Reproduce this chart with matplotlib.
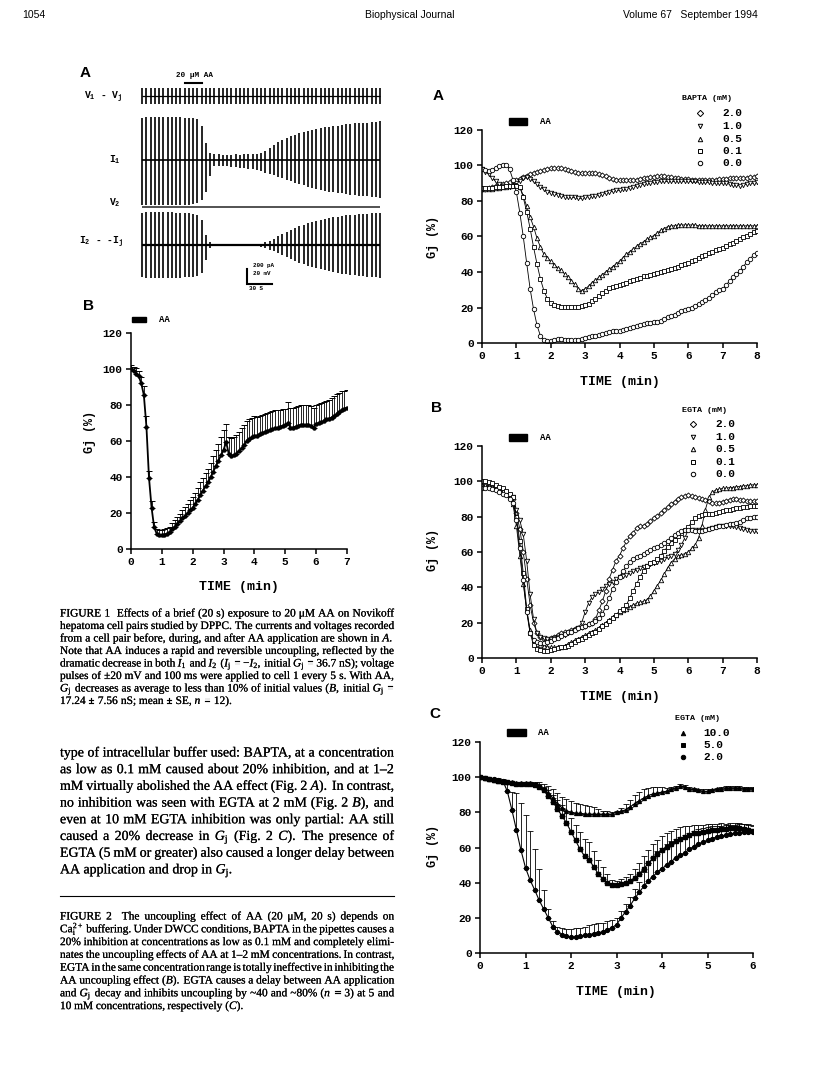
import numpy as np
import matplotlib
matplotlib.use("Agg")
import matplotlib.pyplot as plt
import matplotlib.patheffects as pe
from matplotlib.lines import Line2D
from matplotlib.patches import Rectangle

plt.rcParams['mathtext.fontset'] = 'custom'
plt.rcParams['mathtext.rm'] = 'Liberation Serif'
plt.rcParams['mathtext.it'] = 'Liberation Serif:italic'
plt.rcParams['mathtext.bf'] = 'Liberation Mono:bold'

MONO = 'Liberation Mono'
SERIF = 'Liberation Serif'
SANS = 'Liberation Sans'

# ---------------- data ----------------
# Fig 1A: current pulse envelopes (fraction of initial amplitude), one pulse every 5 s
PULSE_EVERY_S = 5
AA_TRACE_S = [50, 70]
I1_UP = [0.97, 0.99, 1.0, 1.0, 1.0, 1.0, 0.99, 0.99, 1.0, 0.99, 0.98, 0.98, 0.97,
         0.95, 0.78, 0.40, 0.17, 0.13, 0.13, 0.12, 0.12, 0.12, 0.13, 0.12, 0.13, 0.13,
         0.14, 0.15, 0.17, 0.22, 0.28, 0.34, 0.42, 0.47, 0.51, 0.55, 0.59, 0.62, 0.65,
         0.68, 0.70, 0.72, 0.74, 0.76, 0.77, 0.79, 0.80, 0.82, 0.83, 0.84, 0.85, 0.85,
         0.86, 0.87, 0.88, 0.89, 0.90]
I1_DOWN = [0.99, 1.0, 1.0, 1.0, 1.0, 1.0, 1.0, 1.0, 1.0, 1.0, 1.0, 0.99, 0.98, 0.96,
           0.88, 0.70, 0.35, 0.14, 0.13, 0.13, 0.14, 0.15, 0.16, 0.17, 0.18, 0.20, 0.21,
           0.23, 0.25, 0.28, 0.31, 0.34, 0.37, 0.40, 0.44, 0.47, 0.50, 0.53, 0.56, 0.59,
           0.62, 0.64, 0.66, 0.68, 0.70, 0.72, 0.73, 0.74, 0.75, 0.77, 0.78, 0.79, 0.80,
           0.81, 0.82, 0.83, 0.85]
I2_UP = [0.97, 1.0, 1.0, 1.0, 0.99, 1.0, 1.0, 0.99, 0.98, 0.98, 0.97, 0.96, 0.95,
         0.92, 0.75, 0.30, 0.08, 0.02, 0.02, 0.02, 0.02, 0.02, 0.02, 0.02, 0.02, 0.02,
         0.02, 0.02, 0.04, 0.08, 0.13, 0.19, 0.26, 0.33, 0.40, 0.46, 0.52, 0.57, 0.62,
         0.66, 0.70, 0.73, 0.76, 0.79, 0.82, 0.84, 0.86, 0.88, 0.90, 0.91, 0.92, 0.93,
         0.94, 0.95, 0.96, 0.97, 0.98]
I2_DOWN = [0.98, 1.0, 1.0, 1.0, 1.0, 1.0, 1.0, 1.0, 0.99, 0.99, 0.98, 0.98, 0.97, 0.95,
           0.85, 0.45, 0.10, 0.02, 0.02, 0.02, 0.02, 0.02, 0.02, 0.02, 0.02, 0.02, 0.02,
           0.02, 0.05, 0.09, 0.14, 0.19, 0.25, 0.31, 0.37, 0.43, 0.49, 0.54, 0.59, 0.63,
           0.67, 0.71, 0.74, 0.77, 0.80, 0.83, 0.85, 0.87, 0.89, 0.91, 0.92, 0.94, 0.95,
           0.96, 0.97, 0.98, 1.0]
I1_PEAK_UP_PA = 573
I1_PEAK_DN_PA = 600
I2_PEAK_PA = 440
V1_PULSE = 107

# Fig 1B: mean Gj (%) every 5 s and SE
FIG1B_GJ = [100, 99, 97.5, 96, 92, 85.5, 68, 39.5, 23, 12, 8.5, 7.8,
            7.8, 8, 8.5, 9.5, 11, 12.5, 14, 15.5, 17, 18.5, 20, 21.5,
            23, 25, 27.5, 30, 32.5, 35, 37, 40, 43, 46, 49, 52,
            55, 59.5, 53, 51.5, 52, 53, 54.5, 56, 58, 60, 61, 62,
            63, 63, 64, 64.5, 65, 65.5, 66, 66.5, 67, 67.5, 68, 68.5,
            69, 70, 67.5, 67.5, 68, 68.5, 69, 69, 69, 69, 68.5, 67.5,
            69.5, 70, 70.5, 71, 72, 72.5, 73, 74, 75, 76, 77.5, 78, 78.5]
FIG1B_SE = [2, 2, 3, 3, 3.5, 5, 6, 4, 3.5, 3, 2.5, 2.5,
            3, 3, 3, 3, 3.5, 3.5, 4, 4, 4.5, 5, 5, 5.5,
            6, 6, 6.5, 7, 7, 7.5, 7.5, 8, 8.5, 9, 9.5, 10,
            11, 10, 9.5, 10, 10.5, 10.5, 10.5, 11, 11, 11, 11, 11,
            11, 10.5, 10, 10, 10, 10, 10, 10, 10, 10, 9.5, 9.5,
            9, 11.5, 11, 11, 11, 11, 11, 11, 11, 11, 11, 11,
            10.5, 10.5, 10.5, 10.5, 10.5, 10.5, 11, 11, 11, 10.5, 10.5, 10, 10]
AA_1B = [0.03, 0.49]

# Fig 2A: BAPTA, Gj (%) every 0.1 min
BAPTA_LABELS = ['2.0', '1.0', '0.5', '0.1', '0.0']
BAPTA_20 = [87, 87, 87.5, 88, 88.5, 89, 89.5, 90, 90.5, 91,
            92, 92.5, 93.5, 94, 95, 96, 96.5, 97, 97.5, 98,
            98.5, 98.5, 98.5, 98.5, 98, 97.5, 97, 96.5, 96, 96,
            96, 96, 96, 95.5, 95, 94.5, 94, 93, 92.5, 92,
            92, 92, 92, 92, 92, 92, 92.5, 93, 93, 93.5,
            93.5, 94, 94, 94, 93.5, 93.5, 93, 93, 92.5, 92.5,
            92.5, 92, 92, 92, 92, 92, 92, 92, 92, 92.5,
            92.5, 92.5, 93, 93, 93, 93, 93, 93, 93.5, 93.5, 94]
BAPTA_10 = [98, 96.5, 95, 93, 91, 89.5, 88.5, 88, 88, 88.5,
            90, 91.5, 93, 93.5, 92.5, 91, 89.5, 88, 86.5, 85,
            84.5, 84, 83.5, 83, 82.5, 82.5, 82, 82, 81.5, 81.5,
            82, 82.5, 83, 83, 83.5, 84, 84.5, 85, 85.5, 86,
            86, 86.5, 87, 87.5, 88, 88.5, 89, 89.5, 90, 90,
            90.5, 90.5, 91, 91, 91, 91, 91, 91, 91, 91,
            91, 91, 91, 90.5, 90.5, 90.5, 90.5, 90, 90, 90,
            90, 90, 89.5, 89, 89, 88.5, 89, 89.5, 90, 90, 90.5]
BAPTA_05 = [87, 87, 87, 87, 87.5, 87.5, 88, 88, 88.5, 89,
            89, 88, 83, 77, 71, 65.5, 59, 54, 50, 48,
            46, 44, 42.5, 41, 39, 37, 35, 33, 30.5, 29.5,
            30.5, 32, 34, 35.5, 37, 38.5, 40, 41.5, 43, 44.5,
            46, 48, 50, 51.5, 53, 54.5, 56, 57, 58.5, 59.5,
            60.5, 62, 63.5, 64.5, 65.5, 66, 66, 66.5, 66.5, 66.5,
            66.5, 66.5, 66.5, 66, 66, 66, 66, 66, 66, 66,
            66, 66, 66, 66, 66, 66, 66, 66, 66, 66, 66]
BAPTA_01 = [87.5, 87.5, 87.5, 87.5, 88, 88, 88, 88.5, 88.5, 88.5,
            88.5, 88, 82, 74, 64.5, 54, 44.5, 36, 29.5, 25,
            22.5, 21.5, 21, 20.5, 20.5, 20.5, 20.5, 20.5, 20.5, 21,
            21.5, 22, 23.5, 25, 26.5, 28, 29.5, 31, 31.5, 32,
            32.5, 33.5, 34, 35, 35.5, 36, 36.5, 37.5, 38, 38.5,
            39, 39.5, 40, 40.5, 41, 41.5, 42.5, 43, 44, 44.5,
            45, 46, 47, 48, 49, 49.5, 50.5, 51.5, 52.5, 53,
            53.5, 54.5, 55.5, 56.5, 57.5, 58.5, 59.5, 60.5, 61.5, 62.5, 63]
BAPTA_00 = [98, 97.5, 97, 97.5, 98.5, 99.5, 100.5, 100.5, 98, 92,
            85, 73.5, 60, 45, 30.5, 19, 10, 4, 1.5, 1,
            1, 1.5, 2, 2, 1.5, 1.5, 1.5, 1.5, 1.5, 2.5,
            3, 3.5, 4, 4, 4.5, 5, 5.5, 6, 6.5, 6.5,
            7, 7.5, 8, 8.5, 9, 9.5, 10, 10.5, 11, 11.5,
            12, 12, 12.5, 13.5, 14.5, 15, 16, 17, 18, 18.5,
            19, 20, 21, 22, 23, 24, 25.5, 27, 28.5, 30,
            30.5, 32.5, 35, 37, 39, 40.5, 43, 45.5, 47.5, 49.5, 50.5]

# Fig 2B: EGTA 0-2 mM, Gj (%) every 0.1 min
EGTA_LOW_LABELS = ['2.0', '1.0', '0.5', '0.1', '0.0']
EGTA_20 = [97, 97, 97, 96.5, 96, 95, 94, 93, 91.5, 90,
           82, 73, 60, 45, 30, 20, 14, 12, 11, 11,
           11.5, 12, 13, 14, 14.5, 15, 16, 16.5, 17, 17.5,
           18, 19, 20, 22, 27, 32, 38, 45, 50, 55,
           58, 62, 66, 69, 71, 73.5, 74.5, 75, 76, 77.5,
           79, 80.5, 82, 84, 85.5, 87, 88.5, 90, 91, 91.5,
           92, 91.5, 91, 90.5, 90, 89.5, 89, 88, 87.5, 88,
           88.5, 89, 89.5, 90, 90, 89.5, 89.5, 89, 89, 89, 89]
EGTA_10 = [98, 98, 98, 97.5, 97, 96, 95, 94, 92.5, 91,
           84, 78, 70, 55, 36, 22, 14, 12, 11.5, 11,
           11, 11.5, 12, 12.5, 13, 14, 15, 16, 17, 20,
           26, 31, 34.5, 36, 37.5, 39, 40.5, 42, 43, 44.5,
           46, 46.5, 47, 48, 49, 50, 51, 51.5, 52, 53,
           54, 54.5, 55, 56, 57, 58, 59, 61, 64, 68,
           72.5, 72.5, 72.5, 72.5, 72.5, 72.5, 73, 73.5, 74, 74.5,
           75, 75, 75, 75, 74, 73.5, 73, 72.5, 72, 72, 72]
EGTA_05 = [98, 98, 97.5, 97, 96.5, 95.5, 94.5, 93, 91, 87,
           75, 58, 42, 27, 16, 10, 8, 7.5, 7, 6.5,
           6, 6, 6, 6.5, 7, 8, 9, 10, 11, 12,
           13, 14, 15, 16, 17, 18.5, 20, 21.5, 23, 24.5,
           26, 27, 28, 29, 30, 31, 31.5, 32, 33, 35,
           38, 41, 44, 47.5, 51, 54, 56, 57.5, 58.5, 59,
           60, 62, 64, 68, 75, 84, 91, 94, 95, 95.5,
           96, 96, 96.5, 96.5, 97, 97, 97.5, 97.5, 98, 98, 98]
EGTA_01 = [100, 100, 99.5, 99, 98, 97, 96, 94.5, 93, 91,
           80, 66, 48, 28, 14, 7.5, 5, 4.5, 4, 4,
           4.5, 5, 5.5, 6, 6.5, 7, 8, 9, 10, 11,
           12, 13, 14, 15, 16.5, 18, 19.5, 21, 22.5, 24.5,
           26.5, 28, 30, 34, 38, 42, 46, 49.5, 52, 53.5,
           54.5, 56, 58, 60.5, 63, 65, 67, 69, 71, 72.5,
           74, 77, 79, 80.5, 81, 81.5, 81.5, 81.5, 82, 82.5,
           83, 83.5, 84, 84.5, 85, 85, 85.5, 85.5, 86, 86, 86]
EGTA_00 = [96, 96, 96, 95.5, 95, 94, 93, 92, 90, 88,
           78, 62, 44, 26, 14, 10, 9, 8.5, 8.5, 9,
           9.5, 10.5, 11.5, 12.5, 13.5, 14.5, 15, 16, 17, 17.5,
           18, 19, 20, 21, 22.5, 25, 29, 34, 39, 43,
           46, 49, 52, 54.5, 56, 57, 58, 59, 60, 61,
           62, 63, 64, 65, 66.5, 68, 69.5, 71, 72, 72.5,
           72.5, 72.5, 72, 72, 72, 72.5, 73, 73.5, 74, 74.5,
           75, 75.5, 76, 76, 76.5, 77, 78, 79, 79.5, 80, 80]
AA_2AB = [0.79, 1.31]

# Fig 2C: EGTA 2-10 mM, mean Gj (%) and SE every 0.1 min
EGTA_HIGH_LABELS = ['10.0', '5.0', '2.0']
EGTA_100 = [100, 99.5, 99, 98.5, 98, 98, 97.5, 97, 96.5, 96.5,
            96.5, 96.5, 96, 95, 93, 91, 88, 85, 82.5, 81,
            80, 79.5, 79.5, 79, 79, 79, 79, 79, 79, 79,
            80, 80.5, 81.5, 83, 85, 86.5, 88, 89.5, 90.5, 91,
            91.5, 92, 93, 94, 95, 94.5, 93.5, 93, 92.5, 92,
            92, 92.5, 93, 93.5, 94, 94, 94, 94, 93.5, 93.5, 93.5]
EGTA_100_SE = [0.5, 0.5, 0.5, 0.5, 0.5, 0.5, 0.5, 0.5, 0.5, 0.5,
               0.5, 0.5, 1, 2, 3, 4, 5, 6, 6.5, 6.5,
               6.5, 6, 5.5, 5, 4.5, 4, 3, 2, 1.5, 1,
               1, 2, 3, 4, 5, 5, 5, 4.5, 4, 3.5,
               3, 2, 1.5, 1, 1, 1, 1, 1, 1, 1,
               1, 1, 1, 1, 1, 1, 1, 1, 1, 1, 1]
EGTA_50 = [100, 99.5, 99, 98.5, 98, 97.5, 97, 96.5, 96, 96,
           96, 96, 95.5, 94.5, 92.5, 89.5, 86, 82, 78, 74,
           69, 64, 59, 55, 53, 49, 45, 42, 40, 38.5,
           38.5, 39, 40, 41, 42.5, 45, 48, 51, 54, 56.5,
           58.5, 60.5, 62, 63.5, 65, 66, 67, 68, 68.5, 69,
           69.5, 70, 70, 70.5, 70.5, 71, 71, 71, 70.5, 70, 69.5]
EGTA_50_SE = [0.5, 0.5, 0.5, 0.5, 0.5, 1, 1, 1, 1, 1,
              1, 1, 1, 1.5, 2, 3, 4, 5, 6, 7,
              8, 9, 10, 10, 10, 9, 8, 7, 5, 3,
              2.5, 3, 3.5, 4, 5, 6, 7, 7.5, 8, 8,
              8, 8, 7.5, 7, 6.5, 6, 5.5, 5, 4.5, 4,
              4, 3.5, 3.5, 3.5, 3, 3, 3, 3, 3, 3, 3]
EGTA_20C = [100, 99.5, 99, 99, 98.5, 98, 92, 81.5, 70, 58.5,
            48.5, 41.5, 36, 30, 25, 20, 15, 12, 10.5, 9.5,
            9, 9, 9.5, 10, 10.5, 11, 11.5, 12, 13, 14.5,
            16, 20, 23.5, 27, 31, 34.5, 38, 41, 43.5, 46,
            48, 50, 52, 54, 55.5, 57, 59, 60.5, 62, 63,
            64, 65, 66, 66.5, 67, 67.5, 68, 68.5, 69, 69, 69]
EGTA_20C_SE = [0.5, 0.5, 0.5, 0.5, 1, 1, 4, 10, 21, 27,
               30, 28, 23, 18, 11, 5, 3, 3, 3.5, 4,
               4.5, 5, 5, 5, 5.5, 5.5, 5.5, 5, 5, 4.5,
               4, 4, 4.5, 5, 5.5, 6, 8, 10, 11, 12,
               12, 12, 11.5, 11, 10.5, 10, 9.5, 9, 8.5, 8,
               7.5, 7, 6.5, 6, 6, 5.5, 5, 5, 4.5, 4.5, 4]
AA_2C = [0.59, 1.01]

SAMPLE_MIN = 0.1

# ---------------- text ----------------
CAPTION1 = [
    "FIGURE 1  Effects of a brief (20 s) exposure to 20 μM AA on Novikoff",
    "hepatoma cell pairs studied by DPPC. The currents and voltages recorded",
    "from a cell pair before, during, and after AA application are shown in $A$.",
    "Note that AA induces a rapid and reversible uncoupling, reflected by the",
    "dramatic decrease in both $I_1$ and $I_2$ ($I_\\mathrm{j}$ = −$I_2$, initial $G_\\mathrm{j}$ = 36.7 nS); voltage",
    "pulses of ±20 mV and 100 ms were applied to cell 1 every 5 s. With AA,",
    "$G_\\mathrm{j}$ decreases as average to less than 10% of initial values ($B$, initial $G_\\mathrm{j}$ =",
    "17.24 ± 7.56 nS; mean ± SE, $n$ = 12).",
]
BODY = [
    "type of intracellular buffer used: BAPTA, at a concentration",
    "as low as 0.1 mM caused about 20% inhibition, and at 1–2",
    "mM virtually abolished the AA effect (Fig. 2 $A$). In contrast,",
    "no inhibition was seen with EGTA at 2 mM (Fig. 2 $B$), and",
    "even at 10 mM EGTA inhibition was only partial: AA still",
    "caused a 20% decrease in $G_\\mathrm{j}$ (Fig. 2 $C$). The presence of",
    "EGTA (5 mM or greater) also caused a longer delay between",
    "AA application and drop in $G_\\mathrm{j}$.",
]
CAPTION2 = [
    "FIGURE 2  The uncoupling effect of AA (20 μM, 20 s) depends on",
    "Ca$^{2+}_\\mathrm{i}$ buffering. Under DWCC conditions, BAPTA in the pipettes causes a",
    "20% inhibition at concentrations as low as 0.1 mM and completely elimi-",
    "nates the uncoupling effects of AA at 1–2 mM concentrations. In contrast,",
    "EGTA in the same concentration range is totally ineffective in inhibiting the",
    "AA uncoupling effect ($B$). EGTA causes a delay between AA application",
    "and $G_\\mathrm{j}$ decay and inhibits uncoupling by ~40 and ~80% ($n$ = 3) at 5 and",
    "10 mM concentrations, respectively ($C$).",
]

# ---------------- figure ----------------
W, H = 816, 1067
fig = plt.figure(figsize=(W / 100, H / 100), dpi=100)
fig.patch.set_facecolor('white')


def fx(px):
    return px / W


def fy(py):
    return 1 - py / H


def axes_px(x0, y0, x1, y1):
    return fig.add_axes([fx(x0), fy(y1), (x1 - x0) / W, (y1 - y0) / H])


def gj_axes(x0, y0, x1, y1, xmax):
    ax = axes_px(x0, y0, x1, y1)
    ax.set_xlim(0, xmax)
    ax.set_ylim(0, 120)
    ax.set_xticks(range(xmax + 1))
    ax.set_yticks(range(0, 121, 20))
    ax.spines[['top', 'right']].set_visible(False)
    ax.spines[['left', 'bottom']].set_linewidth(1.1)
    ax.tick_params(direction='out', length=3.5, width=1.1, labelsize=8, pad=2.5)
    plt.setp(ax.get_xticklabels() + ax.get_yticklabels(), family=MONO, weight='bold')
    ax.patch.set_visible(False)
    return ax


def label_axes(xl, yl):
    fig.text(fx(xl[0]), fy(xl[1]), 'TIME (min)', family=MONO, weight='bold',
             fontsize=9.5, ha='center', va='center')
    fig.text(fx(yl[0]), fy(yl[1]), 'Gj (%)', family=MONO, weight='bold',
             fontsize=8.5, ha='center', va='center', rotation=90)


def aa_bar(ax, window, y0, y1):
    ax.add_patch(Rectangle((window[0], y0), window[1] - window[0], y1 - y0,
                           color='black', clip_on=False))
    ax.annotate('AA', xy=(window[1], (y0 + y1) / 2), xytext=(9, 0),
                textcoords='offset points', family=MONO, weight='bold',
                fontsize=6.5, va='center', ha='left', annotation_clip=False)


def legend(title, tx, ty, mx, lx, rows_y, rows):
    fig.text(fx(tx), fy(ty), title, family=MONO, weight='bold', fontsize=6,
             ha='left', va='center')
    for yy, (mk, lab, filled) in zip(rows_y, rows):
        fig.add_artist(Line2D([fx(mx)], [fy(yy)], marker=mk, ms=3.2, mew=0.7,
                              mec='black', mfc='black' if filled else 'white',
                              transform=fig.transFigure))
        fig.text(fx(lx), fy(yy), lab, family=MONO, weight='bold', fontsize=8,
                 ha='left', va='center')


def letter(s, x, y):
    fig.text(fx(x), fy(y), s, family=SANS, weight='bold', fontsize=11,
             ha='center', va='center')


# header
fig.text(fx(22), fy(15), '1054', family=SANS, fontsize=7.5, va='center')
fig.text(fx(410), fy(15), 'Biophysical Journal', family=SANS, fontsize=7.5,
         va='center', ha='center')
fig.text(fx(758), fy(15), 'Volume 67   September 1994', family=SANS, fontsize=7.5,
         va='center', ha='right')

# ---- Fig 1A traces ----
PX_PER_UNIT = 0.075
ax_tr = axes_px(141, 80, 381, 292)
ax_tr.set_xlim(-1 / 0.85, 280 + 1 / 0.85)
ax_tr.set_ylim(0, 212 / PX_PER_UNIT)
ax_tr.axis('off')
t_pulse = np.arange(len(I1_UP)) * PULSE_EVERY_S
t_end = t_pulse[-1]
base_v1, base_i1, base_v2, base_i2 = 2613, 1760, 1133, 627

ax_tr.hlines(base_v1, 0, t_end, color='k', lw=0.9)
ax_tr.vlines(t_pulse, base_v1 - V1_PULSE, base_v1 + V1_PULSE, color='k', lw=1.2)

ax_tr.hlines(base_i1, 0, t_end, color='k', lw=1.2)
ax_tr.vlines(t_pulse, base_i1 - np.array(I1_DOWN) * I1_PEAK_DN_PA,
             base_i1 + np.array(I1_UP) * I1_PEAK_UP_PA, color='k', lw=1.2)

ax_tr.hlines(base_v2, 0, t_end, color='#444444', lw=1.3)

ax_tr.hlines(base_i2, 0, t_end, color='k', lw=1.6)
ax_tr.vlines(t_pulse, base_i2 - np.array(I2_DOWN) * I2_PEAK_PA,
             base_i2 + np.array(I2_UP) * I2_PEAK_PA, color='k', lw=1.2)

# AA marker and scale bar
ax_tr.plot(AA_TRACE_S, [2787, 2787], color='k', lw=1.5, clip_on=False)
ax_tr.text(np.mean(AA_TRACE_S) + 2, 2890, '20 μM AA', family=MONO, weight='bold',
           fontsize=5.5, ha='center', va='center', clip_on=False)
sb_t, sb_y = 123.5, 107
ax_tr.plot([sb_t, sb_t, sb_t + 30], [sb_y + 200, sb_y, sb_y], color='k', lw=1.5,
           solid_joinstyle='miter', clip_on=False)
ax_tr.text(sb_t + 7, sb_y + 245, '200 pA', family=MONO, weight='bold', fontsize=4.2,
           va='center')
ax_tr.text(sb_t + 7, sb_y + 135, '20 mV', family=MONO, weight='bold', fontsize=4.2,
           va='center')
ax_tr.text(sb_t + 11, sb_y - 60, '30 S', family=MONO, weight='bold', fontsize=4.2,
           va='center', ha='center')

tr_kw = dict(family=MONO, weight='bold', fontsize=7, va='center', ha='right')
fig.text(fx(123), fy(97), r'V$_\mathbf{1}$ - V$_\mathbf{j}$', **tr_kw)
fig.text(fx(121), fy(160), r'I$_\mathbf{1}$', **tr_kw)
fig.text(fx(121), fy(203), r'V$_\mathbf{2}$', **tr_kw)
fig.text(fx(123), fy(242), r'I$_\mathbf{2}$ - -I$_\mathbf{j}$', **tr_kw)
letter('A', 85, 73)

# ---- Fig 1B ----
ax1b = gj_axes(131, 333, 347, 549, 7)
t1b = np.arange(len(FIG1B_GJ)) / 12
ax1b.errorbar(t1b, FIG1B_GJ, yerr=[np.zeros(len(FIG1B_SE)), FIG1B_SE], fmt='-o',
              color='k', ms=2.2, lw=1.3, elinewidth=0.6, capsize=2.3, capthick=0.7)
aa_bar(ax1b, AA_1B, 126, 129)
label_axes((239, 587), (90, 432))
letter('B', 88, 306)

# ---- Fig 2A ----
open_markers = ['D', 'v', '^', 's', 'o']
open_sizes = [2.6, 3.2, 3.2, 3.0, 3.2]
ax2a = gj_axes(482, 130, 757, 343, 8)
for ys, mk, ms in zip([BAPTA_20, BAPTA_10, BAPTA_05, BAPTA_01, BAPTA_00],
                      open_markers, open_sizes):
    ax2a.plot(np.arange(len(ys)) * SAMPLE_MIN, ys, '-', color='k', lw=0.6,
              marker=mk, ms=ms, mfc='white', mec='k', mew=0.6)
aa_bar(ax2a, AA_2AB, 122.8, 126.8)
label_axes((620, 382), (433, 237))
letter('A', 438, 96)
legend('BAPTA (mM)', 682, 99, 700, 722, [113, 126, 139, 151, 163],
       [(m, l, False) for m, l in zip(open_markers, BAPTA_LABELS)])

# ---- Fig 2B ----
ax2b = gj_axes(482, 446, 757, 658, 8)
for ys, mk, ms in zip([EGTA_20, EGTA_10, EGTA_05, EGTA_01, EGTA_00],
                      open_markers, open_sizes):
    ax2b.plot(np.arange(len(ys)) * SAMPLE_MIN, ys, '-', color='k', lw=0.6,
              marker=mk, ms=ms, mfc='white', mec='k', mew=0.6)
aa_bar(ax2b, AA_2AB, 122.8, 126.8)
label_axes((620, 697), (433, 550))
letter('B', 437, 408)
legend('EGTA (mM)', 682, 410, 693, 715, [424, 437, 449, 462, 474],
       [(m, l, False) for m, l in zip(open_markers, EGTA_LOW_LABELS)])

# ---- Fig 2C ----
filled_markers = ['^', 's', 'o']
ax2c = gj_axes(480, 742, 753, 953, 6)
for ys, se, mk in zip([EGTA_100, EGTA_50, EGTA_20C],
                      [EGTA_100_SE, EGTA_50_SE, EGTA_20C_SE], filled_markers):
    ax2c.errorbar(np.arange(len(ys)) * SAMPLE_MIN, ys,
                  yerr=[np.zeros(len(se)), se], fmt='-', marker=mk, ms=2.8,
                  color='k', lw=0.8, elinewidth=0.6, capsize=2.0, capthick=0.6)
aa_bar(ax2c, AA_2C, 123.4, 127.4)
label_axes((616, 992), (433, 846))
letter('C', 435, 714)
legend('EGTA (mM)', 675, 719, 683, 703, [733, 745, 757],
       [(m, l, True) for m, l in zip(filled_markers, EGTA_HIGH_LABELS)])

# ---------------- justified text blocks ----------------
# one text per word; path effects make the words draw as outlines so they all
# sit on the same baseline (a very thin stroke keeps them close to print weight)
renderer = fig.canvas.get_renderer()
WORD_FX = [pe.Stroke(linewidth=0.12, foreground='black'), pe.Normal()]


def text_block(lines, x0, x1, y_first, dy, size, base_off):
    for k, line in enumerate(lines):
        yb = fy(y_first + k * dy + base_off)
        words = line.split(' ')
        arts = [fig.text(0, yb, w, family=SERIF, fontsize=size, va='baseline',
                         path_effects=WORD_FX) for w in words]
        widths = [a.get_window_extent(renderer).width if w else 0.0
                  for a, w in zip(arts, words)]
        if k == len(lines) - 1:
            gap = size * 100 / 72 * 0.25
        else:
            gap = (x1 - x0 - sum(widths)) / max(len(words) - 1, 1)
        x = x0
        for a, wd in zip(arts, widths):
            a.set_x(fx(x))
            x += wd + gap


text_block(CAPTION1, 60, 394, 613, 12.5, 8.2, 3.5)
text_block(BODY, 60, 394, 752, 16.7, 10, 4.5)
fig.add_artist(Line2D([fx(60), fx(394)], [fy(896), fy(896)], color='k', lw=0.8,
                      transform=fig.transFigure))
text_block(CAPTION2, 60, 394, 916, 12.8, 8.2, 3.5)

fig.savefig('out.png', dpi=100, facecolor='white')
